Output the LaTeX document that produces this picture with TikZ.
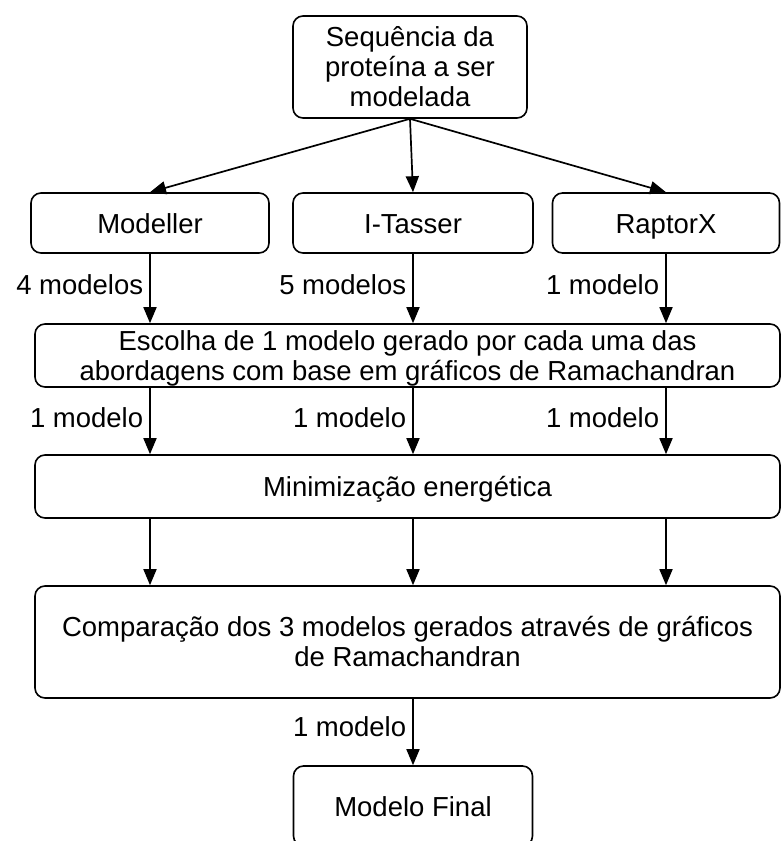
\documentclass[tikz,border=0pt]{standalone}
\usepackage{fontspec}
\setmainfont{Liberation Sans}
\usetikzlibrary{arrows.meta,calc}
\begin{document}
\begin{tikzpicture}[x=1pt,y=-1pt,
 box/.style={draw, line width=1.6pt, rounded corners=10pt, align=center, font=\fontsize{27.5}{30}\selectfont, inner sep=0pt},
 one/.style={text height=20pt, text depth=0pt},
 two/.style={text height=56pt, text depth=6pt},
 arr/.style={line width=1.7pt, -{Triangle[length=16pt,width=13pt]}},
 lbl/.style={font=\fontsize{27.5}{30}\selectfont, inner sep=6pt}]
\useasboundingbox (0,0) rectangle (782,841);
\node[box, minimum width=234pt, minimum height=102pt] (seq) at (410,67) {Sequência da\\proteína a ser\\modelada};
\node[box, one, minimum width=238pt, minimum height=60pt] (mod) at (150,223) {Modeller};
\node[box, one, minimum width=240pt, minimum height=60pt] (ita) at (413,223) {I-Tasser};
\node[box, one, minimum width=227pt, minimum height=60pt] (rap) at (666,223) {RaptorX};
\node[box, two, minimum width=745pt, minimum height=63pt] (esc) at (407.5,355.5) {Escolha de 1 modelo gerado por cada uma das\\abordagens com base em gráficos de Ramachandran};
\node[box, one, minimum width=745pt, minimum height=63pt] (min) at (407.5,486.5) {Minimização energética};
\node[box, minimum width=745pt, minimum height=112pt] (cmp) at (407.5,642) {Comparação dos 3 modelos gerados através de gráficos\\de Ramachandran};
\node[box, one, minimum width=239pt, minimum height=80pt] (fin) at (413,806) {Modelo Final};

\draw[arr] (seq.south) -- (mod.north);
\draw[arr] (seq.south) -- (ita.north);
\draw[arr] (seq.south) -- (rap.north);

\draw[arr] (mod.south) -- node[lbl, left, pos=0.45] {4 modelos} (esc.north -| mod.south);
\draw[arr] (ita.south) -- node[lbl, left, pos=0.45] {5 modelos} (esc.north -| ita.south);
\draw[arr] (rap.south) -- node[lbl, left, pos=0.45] {1 modelo} (esc.north -| rap.south);

\draw[arr] (esc.south -| mod.south) -- node[lbl, left, pos=0.45] {1 modelo} (min.north -| mod.south);
\draw[arr] (esc.south -| ita.south) -- node[lbl, left, pos=0.45] {1 modelo} (min.north -| ita.south);
\draw[arr] (esc.south -| rap.south) -- node[lbl, left, pos=0.45] {1 modelo} (min.north -| rap.south);

\draw[arr] (min.south -| mod.south) -- (cmp.north -| mod.south);
\draw[arr] (min.south -| ita.south) -- (cmp.north -| ita.south);
\draw[arr] (min.south -| rap.south) -- (cmp.north -| rap.south);

\draw[arr] (cmp.south -| fin.north) -- node[lbl, left, pos=0.42] {1 modelo} (fin.north);
\end{tikzpicture}
\end{document}
